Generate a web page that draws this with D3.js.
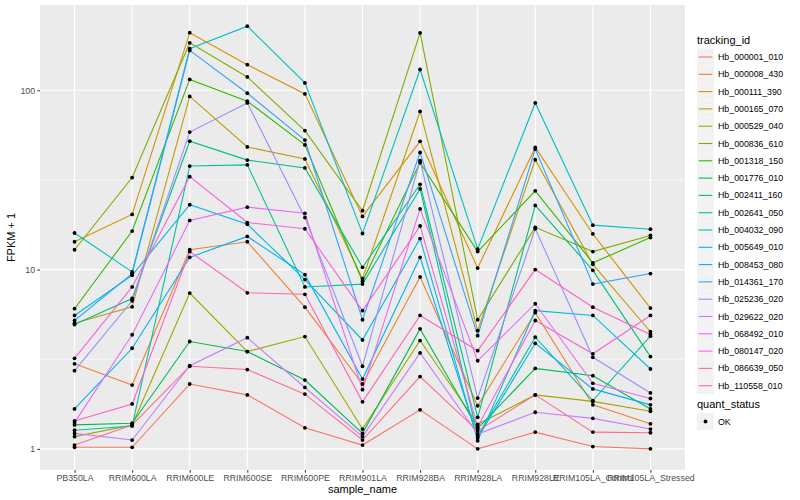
<!DOCTYPE html>
<html>
<head>
<meta charset="utf-8">
<script src="https://cdn.jsdelivr.net/npm/d3@7"></script>
<style>
body { margin: 0; background: #fff; }
text { font-family: "Liberation Sans", Arial, Helvetica, sans-serif; }
</style>
</head>
<body>
<div id="chart"></div>
<script>

/// data (FPKM + 1)

const samples = ["PB350LA", "RRIM600LA", "RRIM600LE", "RRIM600SE", "RRIM600PE", "RRIM901LA",
  "RRIM928BA", "RRIM928LA", "RRIM928LE", "RRIM105LA_Control", "RRIM105LA_Stressed"];

const trackingIds = ["Hb_000001_010", "Hb_000008_430", "Hb_000111_390", "Hb_000165_070",
  "Hb_000529_040", "Hb_000836_610", "Hb_001318_150", "Hb_001776_010", "Hb_002411_160",
  "Hb_002641_050", "Hb_004032_090", "Hb_005649_010", "Hb_008453_080", "Hb_014361_170",
  "Hb_025236_020", "Hb_029622_020", "Hb_068492_010", "Hb_080147_020", "Hb_086639_050",
  "Hb_110558_010"];

// one row per tracking_id, one value per sample
const fpkm = [
  [1.02, 1.02, 2.3, 2.0, 1.31, 1.05, 1.65, 1.0, 1.24, 1.03, 1.0],
  [2.98, 2.27, 12.9, 14.3, 6.17, 2.3, 9.1, 1.74, 5.75, 1.76, 1.38],
  [14.3, 20.3, 209.6, 139, 95.5, 19.8, 51.9, 10.2, 48, 15.8, 6.1],
  [5.02, 6.2, 92.5, 48.3, 41.4, 8.9, 76.2, 4.57, 41, 10.7, 4.5],
  [1.17, 1.36, 7.4, 3.49, 4.23, 1.29, 4.02, 1.37, 2.0, 1.84, 1.62],
  [12.9, 32.6, 184, 118.7, 59.6, 21.3, 209, 5.25, 17.2, 12.6, 15.5],
  [6.05, 16.4, 115, 86.9, 49.6, 8.6, 39.5, 12.6, 27.5, 10.9, 15.1],
  [1.36, 1.39, 3.97, 3.49, 2.42, 1.22, 4.67, 1.3, 2.81, 2.56, 1.67],
  [4.94, 6.9, 52, 40.8, 36.9, 10.3, 29.9, 1.5, 22.8, 9.9, 3.27],
  [1.27, 1.34, 37.8, 38.4, 8.0, 8.3, 28.2, 1.18, 4.2, 1.86, 4.25],
  [16.0, 9.7, 170.6, 228, 110, 15.9, 130.6, 13.0, 85, 17.7, 16.8],
  [5.55, 9.3, 23, 17.9, 8.8, 4.05, 14.9, 1.11, 5.9, 5.55, 2.79],
  [1.67, 3.64, 11.7, 15.3, 9.37, 2.45, 11.7, 1.15, 3.88, 2.16, 1.76],
  [5.2, 9.5, 166.9, 96.3, 52.8, 5.25, 45, 4.28, 47, 8.3, 9.5],
  [2.73, 6.7, 58.5, 85, 19.5, 2.89, 40.5, 1.92, 16.9, 3.24, 2.05],
  [1.22, 1.12, 2.91, 4.17, 2.2, 1.17, 3.43, 1.21, 1.6, 1.48, 1.29],
  [1.40, 4.33, 18.8, 22.3, 20.6, 2.14, 21.8, 3.1, 6.45, 2.32, 1.91],
  [3.2, 8.0, 33, 18.3, 16.9, 5.9, 17.5, 1.33, 5.2, 3.39, 5.55],
  [1.43, 1.78, 12.6, 7.42, 7.28, 1.83, 5.55, 3.53, 10.0, 6.17, 4.35],
  [1.05, 1.36, 2.89, 2.77, 2.02, 1.12, 2.53, 1.26, 2.0, 1.24, 1.23]
];

const yTicks = [1, 10, 100];
const quantStatus = ["OK"];

///////////////////////////////////////////////////////////////////////////////

// ggplot hue palette for 20 levels
const palette = ["#F8766D", "#EA8331", "#D89000", "#C09B00", "#A3A500", "#7CAE00", "#39B600",
  "#00BB4E", "#00BF7D", "#00C1A3", "#00BFC4", "#00BAE0", "#00B0F6", "#35A2FF", "#9590FF",
  "#C77CFF", "#E76BF3", "#FA62DB", "#FF62BC", "#FF6C91"];

const width = 800, height = 500;
const panel = { left: 40, right: 685, top: 5, bottom: 470 };

const svg = d3.select("#chart").append("svg")
  .attr("width", width)
  .attr("height", height);

// scales
let x = d3.scalePoint()
  .domain(samples)
  .range([panel.left, panel.right])
  .padding(0.6);

const allValues = fpkm.flat();
const lmin = Math.log10(d3.min(allValues)), lmax = Math.log10(d3.max(allValues));
const pad = (lmax - lmin) * 0.05;

let y = d3.scaleLog()
  .domain([Math.pow(10, lmin - pad), Math.pow(10, lmax + pad)])
  .range([panel.bottom, panel.top]);

// panel + grid
svg.append("rect")
  .attr("x", panel.left).attr("y", panel.top)
  .attr("width", panel.right - panel.left)
  .attr("height", panel.bottom - panel.top)
  .style("fill", "#EBEBEB");

let minorTicks = [];
for (let i = 0; i < yTicks.length - 1; i++) minorTicks.push(Math.sqrt(yTicks[i] * yTicks[i + 1]));

svg.selectAll("line.minor")
  .data(minorTicks)
  .enter().append("line")
  .attr("class", "minor")
  .attr("x1", panel.left).attr("x2", panel.right)
  .attr("y1", d => y(d)).attr("y2", d => y(d))
  .style("stroke", "#fff").style("stroke-width", 0.55);

svg.selectAll("line.majorY")
  .data(yTicks)
  .enter().append("line")
  .attr("class", "majorY")
  .attr("x1", panel.left).attr("x2", panel.right)
  .attr("y1", d => y(d)).attr("y2", d => y(d))
  .style("stroke", "#fff").style("stroke-width", 1.1);

svg.selectAll("line.majorX")
  .data(samples)
  .enter().append("line")
  .attr("class", "majorX")
  .attr("y1", panel.top).attr("y2", panel.bottom)
  .attr("x1", d => x(d)).attr("x2", d => x(d))
  .style("stroke", "#fff").style("stroke-width", 1.1);

// lines
const line = d3.line()
  .x((d, i) => x(samples[i]))
  .y(d => y(d));

svg.selectAll("path.series")
  .data(fpkm)
  .enter().append("path")
  .attr("class", "series")
  .attr("d", line)
  .style("fill", "none")
  .style("stroke", (d, i) => palette[i])
  .style("stroke-width", 1.1);

// points
fpkm.forEach(row => {
  svg.append("g").selectAll("circle")
    .data(row)
    .enter().append("circle")
    .attr("cx", (d, i) => x(samples[i]))
    .attr("cy", d => y(d))
    .attr("r", 1.9)
    .style("fill", "#000");
});

// axes
let yAxis = d3.axisLeft(y)
  .tickValues(yTicks)
  .tickFormat(d3.format("d"))
  .tickSize(2.75)
  .tickPadding(2.2);

svg.append("g")
  .attr("transform", `translate(${panel.left},0)`)
  .call(yAxis)
  .call(g => g.select(".domain").remove())
  .call(g => g.selectAll(".tick line").style("stroke", "#333"))
  .call(g => g.selectAll(".tick text").style("fill", "#4D4D4D").style("font-size", "8.8px")
    .style("font-family", '"Liberation Sans", Arial, sans-serif'));

let xAxis = d3.axisBottom(x)
  .tickSize(2.75)
  .tickPadding(2.2);

svg.append("g")
  .attr("transform", `translate(0,${panel.bottom})`)
  .call(xAxis)
  .call(g => g.select(".domain").remove())
  .call(g => g.selectAll(".tick line").style("stroke", "#333"))
  .call(g => g.selectAll(".tick text").style("fill", "#4D4D4D").style("font-size", "8.8px")
    .style("font-family", '"Liberation Sans", Arial, sans-serif'));

// axis titles
svg.append("text")
  .attr("x", (panel.left + panel.right) / 2)
  .attr("y", 493)
  .style("text-anchor", "middle")
  .style("font-size", "11px")
  .text("sample_name");

svg.append("text")
  .attr("transform", `translate(15,${(panel.top + panel.bottom) / 2}) rotate(-90)`)
  .style("text-anchor", "middle")
  .style("font-size", "11px")
  .text("FPKM + 1");

// legend: tracking_id
const lg = svg.append("g").attr("transform", "translate(697,0)");
const keySize = 17.3;
const legendTop = 48.5;

lg.append("text")
  .attr("x", 0).attr("y", 44)
  .style("font-size", "11px")
  .text("tracking_id");

let keys = lg.selectAll("g.key")
  .data(trackingIds)
  .enter().append("g")
  .attr("class", "key")
  .attr("transform", (d, i) => `translate(0,${legendTop + i * keySize})`);

keys.append("rect")
  .attr("width", 17).attr("height", 17)
  .style("fill", "#F2F2F2");

keys.append("line")
  .attr("x1", 1.7).attr("x2", 15.3)
  .attr("y1", 8.5).attr("y2", 8.5)
  .style("stroke", (d, i) => palette[i])
  .style("stroke-width", 1.1);

keys.append("text")
  .attr("x", 21).attr("y", 8.5)
  .attr("dy", "0.35em")
  .style("font-size", "8.8px")
  .text(d => d);

// legend: quant_status
const qg = svg.append("g").attr("transform", "translate(697,0)");

qg.append("text")
  .attr("x", 0).attr("y", 408)
  .style("font-size", "11px")
  .text("quant_status");

let qkeys = qg.selectAll("g.qkey")
  .data(quantStatus)
  .enter().append("g")
  .attr("class", "qkey")
  .attr("transform", (d, i) => `translate(0,${413 + i * keySize})`);

qkeys.append("rect")
  .attr("width", 17).attr("height", 17)
  .style("fill", "#F2F2F2");

qkeys.append("circle")
  .attr("cx", 8.5).attr("cy", 8.5).attr("r", 1.9)
  .style("fill", "#000");

qkeys.append("text")
  .attr("x", 21).attr("y", 8.5)
  .attr("dy", "0.35em")
  .style("font-size", "8.8px")
  .text(d => d);

</script>
</body>
</html>
